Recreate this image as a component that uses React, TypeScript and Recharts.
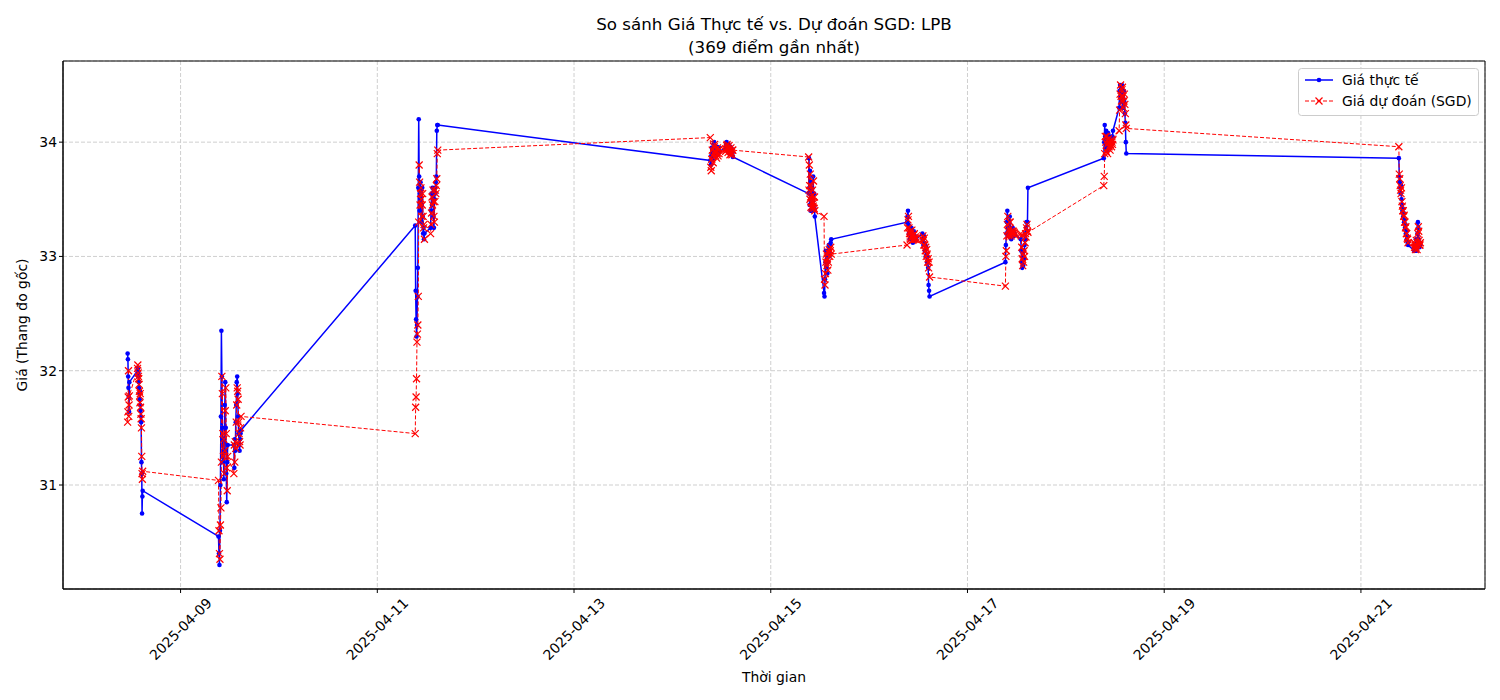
import React from 'react'
import { LineChart, Line, XAxis, YAxis, CartesianGrid, ReferenceArea } from 'recharts'

// Prices per trading session (local time, stored as UTC so nothing shifts)
const actual0408am = [32.15, 32.1, 31.95, 31.85, 31.77, 31.64, 31.9]
const pred0408am = [31.55, 31.64, 31.77, 32.0, 31.6, 31.7, 31.78]
const actual0408pm = [32.0, 32.02, 31.95, 31.98, 31.9, 31.85, 31.8, 31.75, 31.82, 31.7, 31.65, 31.6, 31.55, 31.2, 31.1, 30.75, 30.9, 30.95]
const pred0408pm = [32.02, 32.05, 31.98, 31.95, 31.93, 31.88, 31.82, 31.78, 31.72, 31.8, 31.68, 31.62, 31.58, 31.5, 31.25, 31.1, 31.05, 31.12]

const actual0409am = [30.55, 30.4, 30.3, 30.6, 31.0, 31.6, 32.35, 31.95, 31.5, 31.2, 31.4, 31.05, 31.3, 31.7, 31.9, 31.5, 31.1, 30.85, 31.2, 31.35]
const pred0409am = [31.04, 30.6, 30.4, 30.35, 30.65, 30.8, 31.2, 31.95, 31.8, 31.45, 31.25, 31.4, 31.1, 31.3, 31.65, 31.85, 31.45, 31.15, 30.95, 31.25]
const actual0409pm = [31.35, 31.15, 31.4, 31.3, 31.55, 31.7, 31.9, 31.95, 31.8, 31.6, 31.45, 31.35, 31.3, 31.4, 31.45, 31.48]
const pred0409pm = [31.1, 31.35, 31.2, 31.38, 31.32, 31.55, 31.7, 31.85, 31.82, 31.75, 31.55, 31.45, 31.38, 31.35, 31.5, 31.6]

const actual0411am = [33.27, 32.7, 32.45, 32.3, 32.4, 32.65, 32.9, 33.6, 34.2, 33.7, 33.4, 33.55, 33.65, 33.5, 33.3, 33.45, 33.6, 33.35, 33.2, 33.25, 33.15, 33.2]
const pred0411am = [31.45, 31.68, 31.77, 31.93, 32.25, 32.32, 32.4, 32.65, 33.3, 33.8, 33.65, 33.45, 33.55, 33.6, 33.5, 33.35, 33.45, 33.55, 33.35, 33.25, 33.28, 33.15]
const actual0411pm = [33.25, 33.4, 33.55, 33.45, 33.6, 33.5, 33.35, 33.25, 33.5, 33.6, 33.55, 33.65, 33.7, 34.1, 34.15, 34.15]
const pred0411pm = [33.2, 33.28, 33.38, 33.52, 33.45, 33.58, 33.48, 33.35, 33.3, 33.48, 33.58, 33.55, 33.62, 33.68, 33.9, 33.93]

const actual0414am = [33.84, 33.8, 33.88, 33.95, 33.9, 33.85, 33.92, 33.98, 34.0, 33.95, 33.9, 33.93, 33.88, 33.92, 33.96, 33.9, 33.94, 33.91, 33.95, 33.92]
const pred0414am = [34.04, 33.78, 33.75, 33.85, 33.93, 33.88, 33.82, 33.9, 33.96, 33.98, 33.92, 33.88, 33.91, 33.86, 33.9, 33.95, 33.88, 33.93, 33.9, 33.94]
const actual0414pm = [33.95, 33.98, 34.0, 33.96, 33.92, 33.95, 33.98, 33.94, 33.9, 33.93, 33.96, 33.92, 33.9, 33.94, 33.9, 33.87]
const pred0414pm = [33.92, 33.94, 33.97, 33.98, 33.95, 33.91, 33.94, 33.97, 33.93, 33.89, 33.92, 33.95, 33.91, 33.89, 33.93, 33.93]

const actual0415am = [33.55, 33.86, 33.6, 33.45, 33.75, 33.5, 33.4, 33.65, 33.45, 33.55, 33.4, 33.6, 33.48, 33.42, 33.7, 33.45, 33.4, 33.55, 33.42, 33.35]
const pred0415am = [33.87, 33.58, 33.8, 33.62, 33.5, 33.72, 33.52, 33.43, 33.62, 33.47, 33.53, 33.42, 33.58, 33.48, 33.44, 33.66, 33.47, 33.42, 33.52, 33.4]
const actual0415pm = [32.68, 32.65, 32.8, 32.95, 33.05, 32.9, 33.0, 32.85, 32.95, 33.05, 33.1, 33.0, 33.05, 33.1, 33.12, 33.15]
const pred0415pm = [33.35, 32.8, 32.75, 32.85, 32.95, 33.02, 32.92, 32.98, 32.88, 32.95, 33.03, 33.06, 33.0, 33.05, 33.08, 33.02]

const actual0416am = [33.3, 33.35, 33.4, 33.28, 33.2, 33.25, 33.15, 33.22, 33.18, 33.25, 33.2, 33.15, 33.12, 33.18, 33.22, 33.15, 33.18, 33.14, 33.17, 33.15]
const pred0416am = [33.1, 33.25, 33.32, 33.35, 33.25, 33.2, 33.22, 33.15, 33.2, 33.17, 33.23, 33.18, 33.14, 33.15, 33.19, 33.2, 33.15, 33.17, 33.15, 33.16]
const actual0416pm = [33.2, 33.15, 33.1, 33.18, 33.12, 33.05, 33.1, 33.0, 33.08, 33.02, 32.95, 33.0, 32.9, 32.75, 32.7, 32.65]
const pred0416pm = [33.15, 33.18, 33.14, 33.1, 33.16, 33.1, 33.05, 33.08, 33.0, 33.06, 33.02, 32.95, 32.98, 32.9, 32.95, 32.82]

const actual0417am = [32.95, 33.1, 33.2, 33.3, 33.4, 33.25, 33.18, 33.22, 33.3, 33.35, 33.25, 33.2, 33.15, 33.22, 33.18, 33.25, 33.2, 33.22, 33.18, 33.2]
const pred0417am = [32.74, 33.0, 33.05, 33.18, 33.28, 33.35, 33.22, 33.18, 33.24, 33.3, 33.3, 33.22, 33.18, 33.2, 33.2, 33.22, 33.22, 33.2, 33.21, 33.19]
const actual0417pm = [33.15, 33.05, 32.95, 32.9, 33.0, 32.92, 33.05, 32.98, 33.1, 33.2, 33.15, 33.25, 33.3, 33.22, 33.3, 33.6]
const pred0417pm = [33.2, 33.18, 33.08, 32.98, 32.92, 33.02, 32.95, 33.05, 33.0, 33.12, 33.2, 33.17, 33.25, 33.28, 33.22, 33.21]

const actual0418am = [33.86, 34.0, 34.15, 34.05, 33.95, 34.1, 34.0, 33.92, 34.05, 34.08, 33.98, 34.02, 33.95, 34.0, 34.05, 33.98, 34.02, 34.0, 34.05, 34.1]
const pred0418am = [33.62, 33.7, 33.9, 34.05, 34.0, 33.92, 34.05, 33.98, 33.9, 34.0, 34.03, 33.96, 34.0, 33.93, 33.98, 34.02, 33.96, 34.0, 33.98, 34.02]
const actual0418pm = [34.3, 34.45, 34.5, 34.4, 34.35, 34.48, 34.5, 34.42, 34.3, 34.38, 34.45, 34.35, 34.25, 34.17, 34.0, 33.9]
const pred0418pm = [34.1, 34.28, 34.42, 34.5, 34.4, 34.36, 34.46, 34.48, 34.4, 34.3, 34.36, 34.42, 34.33, 34.25, 34.15, 34.12]

const actual0421am = [33.86, 33.7, 33.65, 33.6, 33.55, 33.62, 33.5, 33.45, 33.4, 33.42, 33.35, 33.38, 33.3, 33.32, 33.25, 33.28, 33.2, 33.22, 33.15, 33.18, 33.12, 33.1]
const pred0421am = [33.96, 33.72, 33.68, 33.62, 33.58, 33.55, 33.6, 33.48, 33.44, 33.4, 33.4, 33.35, 33.36, 33.3, 33.3, 33.25, 33.26, 33.2, 33.2, 33.16, 33.15, 33.12]
const actual0421pm = [33.05, 33.1, 33.05, 33.08, 33.15, 33.1, 33.05, 33.12, 33.2, 33.3, 33.25, 33.15, 33.1, 33.08, 33.12, 33.1]
const pred0421pm = [33.12, 33.08, 33.1, 33.06, 33.08, 33.14, 33.1, 33.06, 33.12, 33.2, 33.26, 33.22, 33.14, 33.1, 33.1, 33.12]

const sessions = [
  { date: '2025-04-08', start: '11:05', end: '11:30', actual: actual0408am, pred: pred0408am },
  { date: '2025-04-08', start: '13:30', end: '14:45', actual: actual0408pm, pred: pred0408pm },
  { date: '2025-04-09', start: '09:15', end: '11:30', actual: actual0409am, pred: pred0409am },
  { date: '2025-04-09', start: '13:00', end: '14:45', actual: actual0409pm, pred: pred0409pm },
  { date: '2025-04-11', start: '09:15', end: '11:30', actual: actual0411am, pred: pred0411am },
  { date: '2025-04-11', start: '13:00', end: '14:45', actual: actual0411pm, pred: pred0411pm },
  { date: '2025-04-14', start: '09:15', end: '11:30', actual: actual0414am, pred: pred0414am },
  { date: '2025-04-14', start: '13:00', end: '14:45', actual: actual0414pm, pred: pred0414pm },
  { date: '2025-04-15', start: '09:15', end: '10:45', actual: actual0415am, pred: pred0415am },
  { date: '2025-04-15', start: '13:00', end: '14:45', actual: actual0415pm, pred: pred0415pm },
  { date: '2025-04-16', start: '09:15', end: '11:30', actual: actual0416am, pred: pred0416am },
  { date: '2025-04-16', start: '13:00', end: '14:45', actual: actual0416pm, pred: pred0416pm },
  { date: '2025-04-17', start: '09:15', end: '11:30', actual: actual0417am, pred: pred0417am },
  { date: '2025-04-17', start: '13:00', end: '14:45', actual: actual0417pm, pred: pred0417pm },
  { date: '2025-04-18', start: '09:15', end: '11:30', actual: actual0418am, pred: pred0418am },
  { date: '2025-04-18', start: '13:00', end: '14:45', actual: actual0418pm, pred: pred0418pm },
  { date: '2025-04-21', start: '09:15', end: '11:30', actual: actual0421am, pred: pred0421am },
  { date: '2025-04-21', start: '13:00', end: '14:30', actual: actual0421pm, pred: pred0421pm },
]

const tickDates = ['2025-04-09', '2025-04-11', '2025-04-13', '2025-04-15', '2025-04-17', '2025-04-19', '2025-04-21']
const priceTicks = [31, 32, 33, 34]

const FONT = '"DejaVu Sans", Verdana, sans-serif'

const stamp = (date: string, hm: string) => Date.parse(`${date}T${hm}:00Z`)

interface Point {
  t: number
  actual: number
  pred: number
}

function buildData(): Point[] {
  const out: Point[] = []
  for (const s of sessions) {
    const t0 = stamp(s.date, s.start)
    const t1 = stamp(s.date, s.end)
    const n = s.actual.length
    s.actual.forEach((v, i) => {
      out.push({ t: t0 + ((t1 - t0) * i) / Math.max(1, n - 1), actual: v, pred: s.pred[i] })
    })
  }
  return out
}

const data = buildData()

// matplotlib-style 5% margins around the data
function padded(lo: number, hi: number): [number, number] {
  const pad = (hi - lo) * 0.05
  return [lo - pad, hi + pad]
}
const xDomain = padded(data[0].t, data[data.length - 1].t)
const allPrices = data.flatMap((d) => [d.actual, d.pred])
const yDomain = padded(Math.min(...allPrices), Math.max(...allPrices))

const xTicks = tickDates.map((d) => stamp(d, '00:00'))

function DateTick(props: any) {
  const { x, y, payload } = props
  const cy = y + 34
  const label = new Date(payload.value).toISOString().slice(0, 10)
  return (
    <text
      x={x}
      y={cy}
      textAnchor="middle"
      dominantBaseline="central"
      transform={`rotate(-45 ${x} ${cy})`}
      fontSize={13.9}
      fontFamily={FONT}
      fill="#000"
    >
      {label}
    </text>
  )
}

function BlueDot(props: any) {
  const { cx, cy, index } = props
  return <circle key={`a${index}`} cx={cx} cy={cy} r={2.3} fill="#0000ff" stroke="none" />
}

function RedCross(props: any) {
  const { cx, cy, index } = props
  const s = 3.5
  return (
    <path
      key={`p${index}`}
      d={`M${cx - s},${cy - s}L${cx + s},${cy + s}M${cx - s},${cy + s}L${cx + s},${cy - s}`}
      stroke="#ff0000"
      strokeWidth={1.2}
      fill="none"
    />
  )
}

function Overlay() {
  return (
    <svg width={1500} height={700} style={{ position: 'absolute', left: 0, top: 0, pointerEvents: 'none' }}>
      <g fontFamily={FONT} fill="#000">
        <text x={774} y={24} textAnchor="middle" dominantBaseline="central" fontSize={16.7}>
          So sánh Giá Thực tế vs. Dự đoán SGD: LPB
        </text>
        <text x={774} y={47} textAnchor="middle" dominantBaseline="central" fontSize={16.7}>
          (369 điểm gần nhất)
        </text>
        <text x={774} y={677} textAnchor="middle" dominantBaseline="central" fontSize={13.9}>
          Thời gian
        </text>
        <text
          x={22}
          y={325}
          textAnchor="middle"
          dominantBaseline="central"
          fontSize={13.9}
          transform="rotate(-90 22 325)"
        >
          Giá (Thang đo gốc)
        </text>
      </g>
      <g>
        <rect x={1298.5} y={68.5} width={180} height={47} rx={3} fill="#fff" fillOpacity={0.8} stroke="#cccccc" />
        <line x1={1305} y1={80} x2={1333} y2={80} stroke="#0000ff" strokeWidth={1.5} />
        <circle cx={1319} cy={80} r={2.3} fill="#0000ff" />
        <text x={1342} y={80} dominantBaseline="central" fontSize={13.9} fontFamily={FONT}>
          Giá thực tế
        </text>
        <line x1={1305} y1={101} x2={1333} y2={101} stroke="#ff0000" strokeWidth={1} strokeDasharray="4 2" />
        <path d="M1315.5,97.5L1322.5,104.5M1315.5,104.5L1322.5,97.5" stroke="#ff0000" strokeWidth={1.2} />
        <text x={1342} y={101} dominantBaseline="central" fontSize={13.9} fontFamily={FONT}>
          Giá dự đoán (SGD)
        </text>
      </g>
    </svg>
  )
}

export default function App() {
  return (
    <div style={{ position: 'absolute', left: 0, top: 0, width: 1500, height: 700, background: '#fff' }}>
      <LineChart width={1500} height={700} data={data} margin={{ top: 61, right: 15, bottom: 21, left: 13 }}>
        <CartesianGrid stroke="#cfcfcf" strokeDasharray="4 2" />
        <XAxis
          dataKey="t"
          type="number"
          domain={xDomain}
          ticks={xTicks}
          allowDataOverflow
          height={90}
          tickSize={4}
          tick={<DateTick />}
          stroke="#000"
          interval={0}
        />
        <YAxis
          type="number"
          domain={yDomain}
          ticks={priceTicks}
          allowDataOverflow
          width={50}
          tickSize={4}
          stroke="#000"
          tick={{ fontSize: 13.9, fill: '#000', fontFamily: FONT }}
        />
        <ReferenceArea
          x1={xDomain[0]}
          x2={xDomain[1]}
          y1={yDomain[0]}
          y2={yDomain[1]}
          fill="none"
          fillOpacity={0}
          stroke="#000"
          strokeWidth={1}
        />
        <Line
          type="linear"
          dataKey="actual"
          name="Giá thực tế"
          stroke="#0000ff"
          strokeWidth={1.5}
          dot={BlueDot}
          activeDot={false}
          isAnimationActive={false}
        />
        <Line
          type="linear"
          dataKey="pred"
          name="Giá dự đoán (SGD)"
          stroke="#ff0000"
          strokeWidth={1}
          strokeDasharray="4 2"
          dot={RedCross}
          activeDot={false}
          isAnimationActive={false}
        />
      </LineChart>
      <Overlay />
    </div>
  )
}
